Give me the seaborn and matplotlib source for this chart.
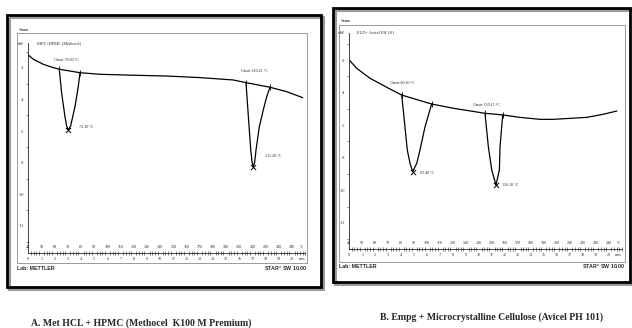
import numpy as np
import pandas as pd
import matplotlib
matplotlib.use('agg')
import matplotlib.pyplot as plt
import seaborn as sns
from matplotlib.patches import Rectangle
from matplotlib.ticker import MultipleLocator

W, H = 632, 328

###### DATA
# A: MET+HPMC (Methocel)
a_temp = [40, 43.8, 51.4, 59, 63.5, 65.3, 67.8, 69.1, 70.3, 72.1, 75.4, 77.9, 79.2,
          94.4, 119.6, 145, 170.2, 195.5, 205.1, 206.9, 208.7, 209.7, 210.6, 211.7,
          212.7, 215.2, 218.2, 220.8, 223.3, 236, 248.1]
a_flow = [-1.18, -1.45, -1.77, -1.98, -2.08, -3.6, -5.08, -5.67, -5.92, -5.67, -4.45, -3.18, -2.30,
          -2.40, -2.46, -2.51, -2.61, -2.76, -2.93, -5.08, -7.19, -7.95, -8.25, -7.95,
          -7.19, -5.72, -4.66, -3.82, -3.22, -3.5, -3.88]
a_onset_temp = [63.5, 79.2, 205.1, 223.3]
a_onset_flow = [-2.08, -2.30, -2.93, -3.22]
a_peak_temp = [70.3, 210.6]
a_peak_flow = [-5.92, -8.25]
a_onset_text = ["Onset 70.00 °C", "Onset 210.21 °C"]
a_peak_text = ["72.10 °C", "211.20 °C"]

# B: ELD+ Avicel PH 101
b_temp = [40, 45.7, 56, 68.8, 80.4, 82.9, 84.7, 86.8, 88.9, 92, 94.5, 98.4, 103.5,
          120.2, 144.6, 147.2, 149.8, 153.1, 155.7, 156.2, 157.5, 158.3, 171.6, 187,
          197.3, 223, 235.8, 246.2]
b_flow = [-2.0, -2.51, -3.12, -3.67, -4.15, -6.09, -7.52, -8.34, -8.85, -8.34, -7.52, -6.09, -4.70,
          -4.96, -5.27, -7.32, -8.75, -9.67, -8.75, -7.32, -6.09, -5.37, -5.52, -5.64,
          -5.64, -5.52, -5.33, -5.13]
b_onset_temp = [80.4, 103.5, 144.6, 158.3]
b_onset_flow = [-4.15, -4.70, -5.27, -5.37]
b_peak_temp = [88.9, 153.1]
b_peak_flow = [-8.85, -9.67]
b_onset_text = ["Onset 80.10 °C", "Onset 150.15 °C"]
b_peak_text = ["83.40 °C", "156.10 °C"]

temp_ticks = [40, 50, 60, 70, 80, 90, 100, 110, 120, 130, 140, 150, 160, 170, 180, 190,
              200, 210, 220, 230, 240]
time_labels = ["0", "1", "2", "3", "4", "5", "6", "7", "8", "9", "10", "11", "12", "13",
               "14", "15", "16", "17", "18", "19", "20"]
y_ticks = [-12, -10, -8, -6, -4, -2]

sns.set_style("white")
plt.rcParams['font.family'] = ['Liberation Serif', 'DejaVu Sans']

fig = plt.figure(figsize=(W / 100, H / 100), dpi=100)


def fx(x):
    return x / W


def fy(y):
    return 1 - y / H


def box(x0, y0, x1, y1, lw, color, z=0):
    fig.patches.append(Rectangle((fx(x0), fy(y1)), fx(x1 - x0), (y1 - y0) / H, fill=False,
                                 lw=lw, edgecolor=color, transform=fig.transFigure,
                                 figure=fig, zorder=z))


def panel(ax_px, ylim, temp, flow, on_t, on_f, pk_t, pk_f, on_txt, on_pos, pk_txt, pk_pos, title):
    x0, y0, x1, y1 = ax_px
    ax = fig.add_axes([fx(x0), fy(y1), fx(x1 - x0), (y1 - y0) / H])
    ax.patch.set_alpha(0)
    df = pd.DataFrame({'T': temp, 'mW': flow})
    sns.lineplot(data=df, x='T', y='mW', sort=False, estimator=None, color='black', lw=0.9, ax=ax)
    # integration baselines across each peak
    for i in (0, 2):
        sns.lineplot(x=on_t[i:i + 2], y=on_f[i:i + 2], color='black', lw=0.9, ax=ax)
    sns.scatterplot(x=on_t, y=on_f, marker='|', s=16, color='black', linewidth=0.6, ax=ax)
    sns.scatterplot(x=pk_t, y=pk_f, marker='x', s=14, color='black', linewidth=0.7, ax=ax)
    for s, (tx, ty) in zip(on_txt, on_pos):
        ax.text(tx, ty, s, fontsize=3, ha='center', va='center')
    for s, (tx, ty) in zip(pk_txt, pk_pos):
        ax.text(tx, ty, s, fontsize=3, ha='left', va='center')
    ax.set_xlim(40, 250)
    ax.set_ylim(*ylim)
    for sp in ['top', 'right']:
        ax.spines[sp].set_visible(False)
    ax.spines['left'].set_linewidth(0.6)
    ax.spines['bottom'].set_linewidth(0.6)
    ax.set_xlabel('')
    ax.set_ylabel('')
    ax.set_yticks(y_ticks + [ylim[1]], labels=[str(v) for v in y_ticks] + ['mW'])
    ax.yaxis.set_minor_locator(MultipleLocator(1))
    ax.tick_params(axis='y', which='major', length=2.2, width=0.5, pad=0.8, labelsize=3)
    ax.tick_params(axis='y', which='minor', length=1.2, width=0.4, left=True)
    ax.set_xticks(temp_ticks + [247.5], labels=time_labels + ['min'])
    ax.xaxis.set_minor_locator(MultipleLocator(2))
    ax.tick_params(axis='x', which='major', direction='inout', length=3.5, width=0.5, pad=0.8, labelsize=3)
    ax.tick_params(axis='x', which='minor', direction='inout', length=2.5, width=0.4, bottom=True)
    sec = ax.secondary_xaxis(0)
    sec.set_xticks(temp_ticks + [247.5], labels=[str(v) for v in temp_ticks] + ['°C'])
    sec.tick_params(length=0, pad=-5.5, labelsize=3)
    sec.spines['bottom'].set_visible(False)
    ax.text(0.03, 1.0, title, transform=ax.transAxes, fontsize=3.2, va='center', ha='left')
    return ax


###### FRAMES
# shadows + outer borders
box(9, 17, 323, 289, 2.2, '#9a9a9a', 0)
box(7, 15, 321, 287, 2.0, 'black', 1)
box(335, 10, 633, 284, 2.2, '#9a9a9a', 0)
box(333, 8, 630, 282, 2.0, 'black', 1)
# inner frames
box(17, 33, 307, 263, 0.6, '#8a8a8a', 1)
box(339, 25, 625, 262, 0.6, '#8a8a8a', 1)

###### PANELS
panel((28.3, 43, 305.2, 253), (-13.71, -0.42), a_temp, a_flow, a_onset_temp, a_onset_flow,
      a_peak_temp, a_peak_flow, a_onset_text, [(69.1, -1.49), (211.9, -2.19)],
      a_peak_text, [(78.5, -5.73), (219.5, -7.57)], 'MET+HPMC (Methocel)')
panel((349.3, 33, 621.7, 249), (-13.6, -0.34), b_temp, b_flow, b_onset_temp, b_onset_flow,
      b_peak_temp, b_peak_flow, b_onset_text, [(81.2, -3.43), (146.0, -4.76)],
      b_peak_text, [(94.5, -8.95), (157.5, -9.67)], 'ELD+ Avicel PH 101')

###### LABELS
sans = ['Liberation Sans', 'DejaVu Sans']
for xl, xr, yt, ye in [(17, 307, 269, 30), (339, 625, 267, 21)]:
    fig.text(fx(xl), fy(yt), 'Lab: METTLER', family=sans, weight='bold', fontsize=3.8, va='center')
    fig.text(fx(xr), fy(yt), r'STAR$^\mathrm{e}$ SW 10.00', family=sans, weight='bold',
             fontsize=3.8, va='center', ha='right')
    fig.text(fx(xl + 2), fy(ye), '^exo', family=sans, weight='bold', fontsize=3.2, va='center')

fig.text(fx(141), fy(323), 'A. Met HCL + HPMC (Methocel  K100 M Premium)', weight='bold',
         fontsize=7, ha='center', va='center')
fig.text(fx(491), fy(317), 'B. Empg + Microcrystalline Cellulose (Avicel PH 101)', weight='bold',
         fontsize=7, ha='center', va='center')

fig.savefig('out.png', dpi=100)
plt.close()
